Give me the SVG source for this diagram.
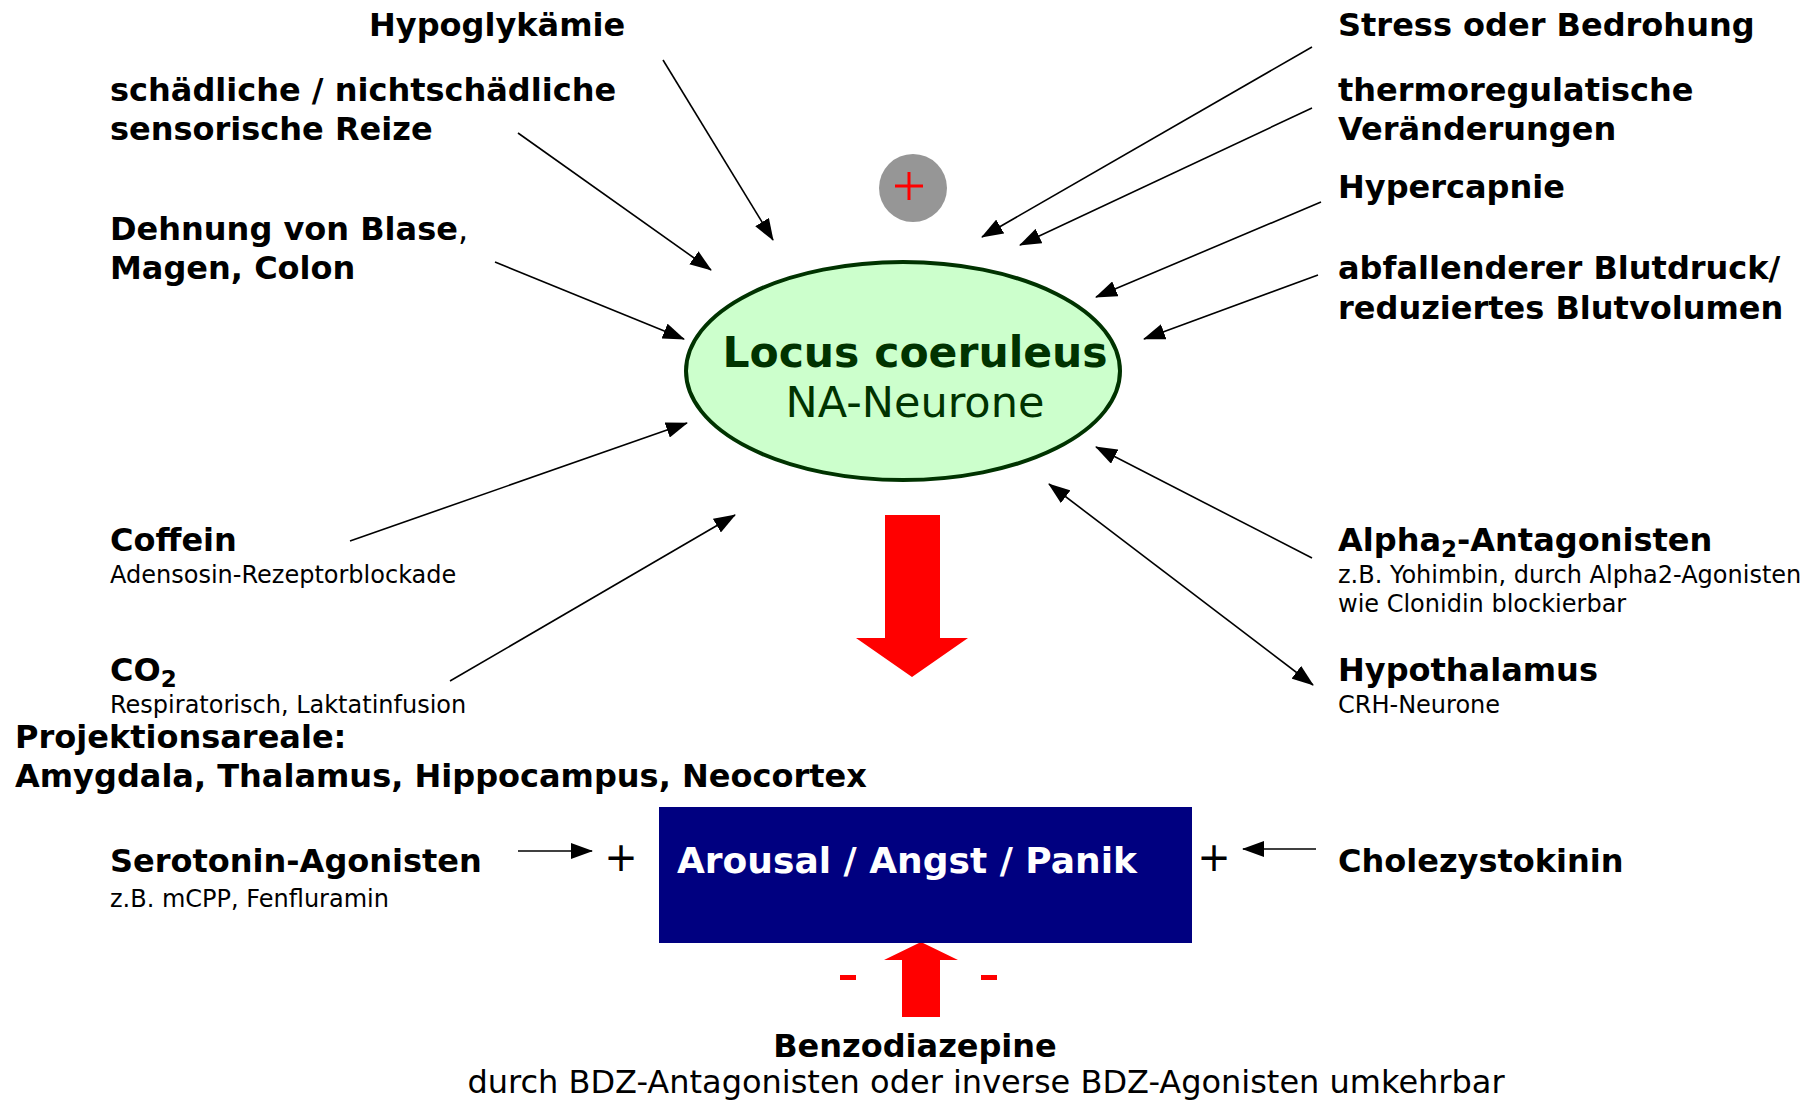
<svg xmlns="http://www.w3.org/2000/svg" width="1818" height="1103" viewBox="0 0 1818 1103">
<style>
text{font-family:"DejaVu Sans","Verdana",sans-serif;fill:#000}
.m{font-size:32px;font-weight:bold}
.s{font-size:24px}
.c{stroke:#000;stroke-width:1.6;fill:none}
</style>
<defs>
<marker id="ah" viewBox="0 0 22 16" refX="21" refY="8" markerWidth="22" markerHeight="16" markerUnits="userSpaceOnUse" orient="auto-start-reverse">
<path d="M0,0 L22,8 L0,16 z" fill="#000"/>
</marker>
</defs>
<rect width="1818" height="1103" fill="#fff"/>

<g id="connectors">
<line class="c" x1="663" y1="60" x2="773" y2="240" marker-end="url(#ah)"/>
<line class="c" x1="518" y1="133" x2="711" y2="270" marker-end="url(#ah)"/>
<line class="c" x1="495" y1="262" x2="684" y2="339" marker-end="url(#ah)"/>
<line class="c" x1="350" y1="541" x2="687" y2="423" marker-end="url(#ah)"/>
<line class="c" x1="450" y1="681" x2="735" y2="515" marker-end="url(#ah)"/>
<line class="c" x1="1312" y1="47" x2="982" y2="237" marker-end="url(#ah)"/>
<line class="c" x1="1312" y1="108" x2="1020" y2="245" marker-end="url(#ah)"/>
<line class="c" x1="1321" y1="202" x2="1096" y2="297" marker-end="url(#ah)"/>
<line class="c" x1="1318" y1="275" x2="1144" y2="339" marker-end="url(#ah)"/>
<line class="c" x1="1312" y1="558" x2="1096" y2="447" marker-end="url(#ah)"/>
<line class="c" x1="1049" y1="484" x2="1313" y2="685" marker-start="url(#ah)" marker-end="url(#ah)"/>
<line class="c" x1="518" y1="851" x2="592" y2="851" marker-end="url(#ah)"/>
<line class="c" x1="1316" y1="849" x2="1243" y2="849" marker-end="url(#ah)"/>
<polygon points="885,515 940,515 940,638 968,638 912,677 856,638 885,638" fill="#f00"/>
<polygon points="902,1017 940,1017 940,960 958,960 921,942 884,960 902,960" fill="#f00"/>
</g>

<g id="plus-sign">
<ellipse cx="913" cy="188" rx="34" ry="34" fill="#969696"/>
<rect x="895" y="184.5" width="28" height="3" fill="#f00"/>
<rect x="907.5" y="172" width="3" height="28" fill="#f00"/>
</g>

<g id="locus">
<ellipse cx="903" cy="371" rx="217" ry="109" fill="#ccffcc" stroke="#003300" stroke-width="4"/>
<text x="915" y="367" text-anchor="middle" style="font-size:42.5px;font-weight:bold;fill:#003300">Locus coeruleus</text>
<text x="915" y="417" text-anchor="middle" style="font-size:43px;fill:#003300">NA-Neurone</text>
</g>

<g id="hypoglykaemie"><text class="m" x="369" y="36">Hypoglykämie</text></g>
<g id="sensorisch"><text class="m" x="110" y="101">schädliche / nichtschädliche</text><text class="m" x="110" y="140">sensorische Reize</text></g>
<g id="dehnung"><text class="m" x="110" y="240">Dehnung von Blase<tspan style="font-weight:normal">,</tspan></text><text class="m" x="110" y="279">Magen, Colon</text></g>
<g id="coffein"><text class="m" x="110" y="551">Coffein</text><text class="s" x="110" y="583">Adensosin-Rezeptorblockade</text></g>
<g id="co2"><text class="m" x="110" y="681">CO<tspan style="font-size:23px" dy="6">2</tspan></text><text class="s" x="110" y="713">Respiratorisch, Laktatinfusion</text></g>
<g id="stress"><text class="m" x="1338" y="36">Stress oder Bedrohung</text></g>
<g id="thermo"><text class="m" x="1338" y="101">thermoregulatische</text><text class="m" x="1338" y="140">Veränderungen</text></g>
<g id="hypercapnie"><text class="m" x="1338" y="198">Hypercapnie</text></g>
<g id="blutdruck"><text class="m" x="1338" y="279">abfallenderer Blutdruck/</text><text class="m" x="1338" y="319">reduziertes Blutvolumen</text></g>
<g id="alpha2"><text class="m" x="1338" y="551">Alpha<tspan style="font-size:23px" dy="6">2</tspan><tspan dy="-6">-Antagonisten</tspan></text><text class="s" x="1338" y="583">z.B. Yohimbin, durch Alpha2-Agonisten</text><text class="s" x="1338" y="612">wie Clonidin blockierbar</text></g>
<g id="hypothalamus"><text class="m" x="1338" y="681">Hypothalamus</text><text class="s" x="1338" y="713">CRH-Neurone</text></g>
<g id="projektion"><text class="m" x="15" y="748">Projektionsareale:</text><text class="m" x="15" y="787">Amygdala, Thalamus, Hippocampus, Neocortex</text></g>
<g id="serotonin"><text class="m" x="110" y="872">Serotonin-Agonisten</text><text class="s" x="110" y="907">z.B. mCPP, Fenfluramin</text></g>
<g id="cholezystokinin"><text class="m" x="1338" y="872">Cholezystokinin</text></g>

<g id="arousal">
<rect x="659" y="807" width="533" height="136" fill="#000080"/>
<text x="677" y="873" style="font-size:36px;font-weight:bold;fill:#fff">Arousal / Angst / Panik</text>
</g>
<g id="plus-left"><text x="621" y="871" text-anchor="middle" style="font-size:40px">+</text></g>
<g id="plus-right"><text x="1214" y="871" text-anchor="middle" style="font-size:40px">+</text></g>
<g id="minus-marks">
<rect x="840" y="975" width="16" height="5" fill="#f00"/>
<rect x="981" y="975" width="16" height="5" fill="#f00"/>
</g>
<g id="benzodiazepine">
<text class="m" x="915" y="1057" text-anchor="middle">Benzodiazepine</text>
<text x="986" y="1093" text-anchor="middle" style="font-size:32px">durch BDZ-Antagonisten oder inverse BDZ-Agonisten umkehrbar</text>
</g>
</svg>
